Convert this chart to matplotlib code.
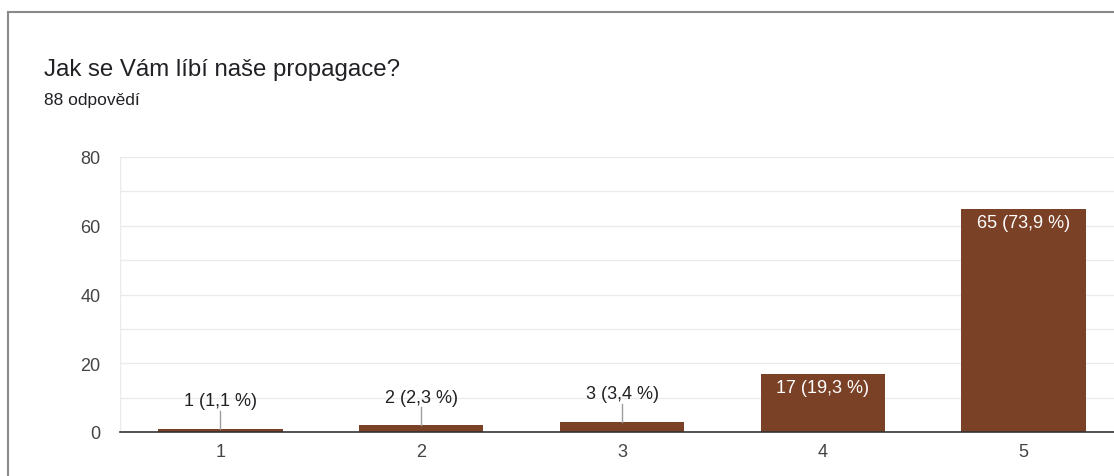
import matplotlib.pyplot as plt

categories = ['1', '2', '3', '4', '5']
counts = [1, 2, 3, 17, 65]
percents = ['1,1', '2,3', '3,4', '19,3', '73,9']

plt.rcParams['font.family'] = ['Liberation Sans', 'DejaVu Sans']

W, H = 1114, 477
fig = plt.figure(figsize=(W / 100, H / 100), dpi=100)

# card border (top and left edge visible)
fig.add_artist(plt.Line2D([8 / W, 8 / W], [0, 1 - 13 / H], color='#8a8a8a', lw=1.5))
fig.add_artist(plt.Line2D([8 / W, 1], [1 - 13 / H, 1 - 13 / H], color='#8a8a8a', lw=1.5))

fig.text(44 / W, 1 - 70 / H, 'Jak se Vám líbí naše propagace?', fontsize=17.3,
         color='#202124', va='center', ha='left')
fig.text(44 / W, 1 - 101 / H, '88 odpovědí', fontsize=12.5,
         color='#202124', va='center', ha='left')

# axes: x from 0.5 to 5.5, y from 0 to 80
left, right = 120, 1124
bottom, top = 433, 158
ax = fig.add_axes([left / W, 1 - bottom / H, (right - left) / W, (bottom - top) / H])
ax.set_xlim(0.5, 5.5)
ax.set_ylim(0, 80)

x = list(range(1, len(categories) + 1))
ax.bar(x, counts, width=0.62, color='#7b4127', zorder=3)

for i, c in enumerate(counts):
    label = f'{c} ({percents[i]} %)'
    if c >= 10:
        ax.annotate(label, (x[i], c), xytext=(0, -4), textcoords='offset points',
                    ha='center', va='top', color='white', fontsize=13, zorder=4)
    else:
        ax.plot([x[i], x[i]], [c, c + 18 / 3.44], color='#9e9e9e', lw=1, zorder=4)
        ax.annotate(label, (x[i], c), xytext=(0, 20), textcoords='offset points',
                    ha='center', va='center', color='#202124', fontsize=13, zorder=4)

ax.set_xticks(x)
ax.set_xticklabels(categories)
ax.set_yticks([0, 20, 40, 60, 80])
ax.set_yticks(range(0, 81, 10), minor=True)
ax.grid(True, axis='y', which='both', color='#ebebeb', lw=1, zorder=0)
ax.axvline(0.5, color='#ebebeb', lw=1, zorder=0)
ax.tick_params(axis='both', which='both', length=0, labelsize=13, colors='#444444')
ax.tick_params(axis='x', pad=8)
ax.tick_params(axis='y', pad=14)
for s in ['top', 'right', 'left']:
    ax.spines[s].set_visible(False)
ax.spines['bottom'].set_color('#333333')
ax.spines['bottom'].set_linewidth(1.2)
ax.spines['bottom'].set_zorder(5)

fig.savefig('out.png', dpi=100)
